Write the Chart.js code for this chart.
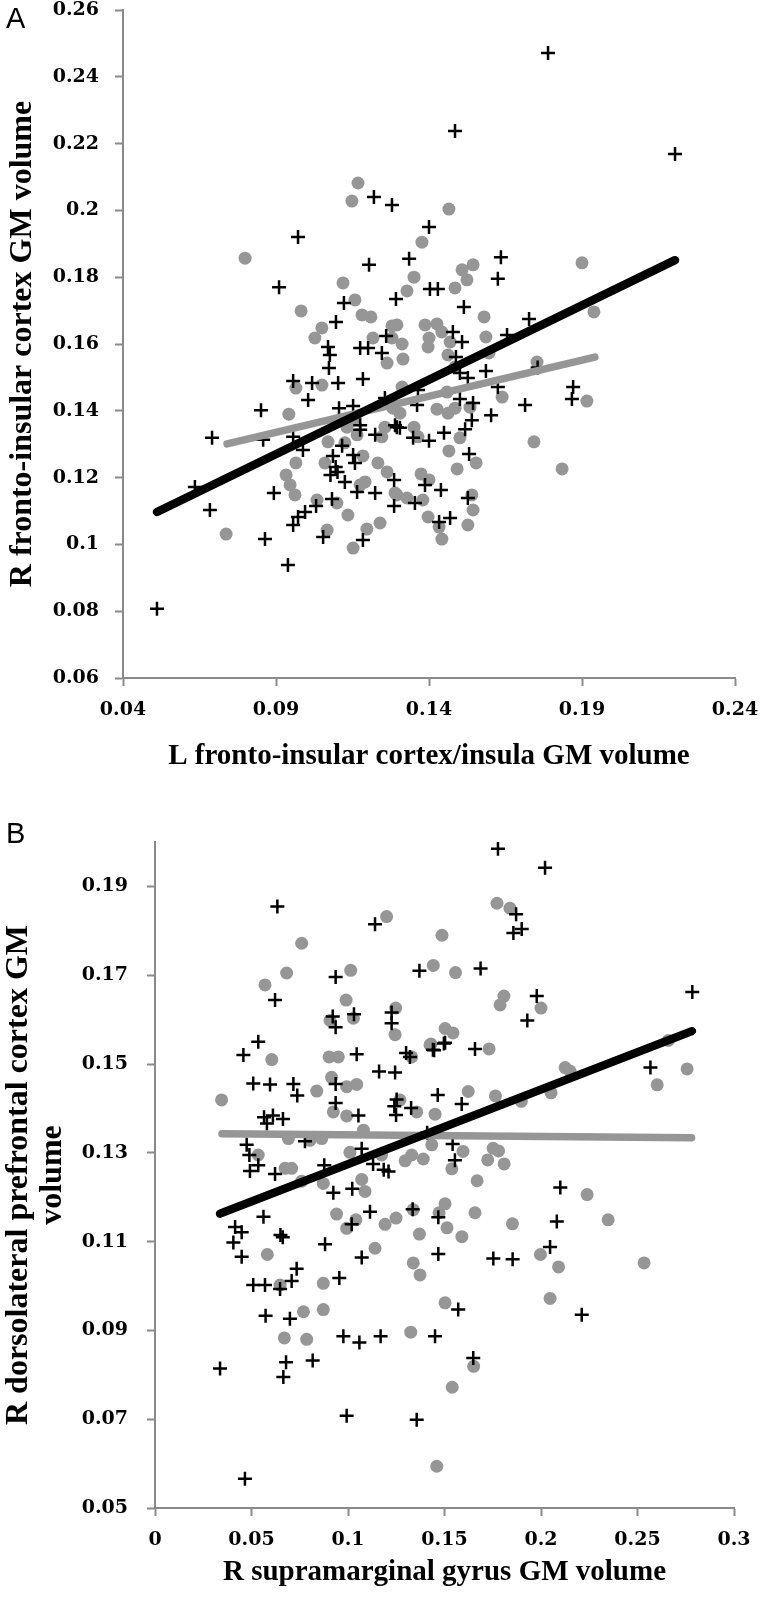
<!DOCTYPE html>
<html>
<head>
<meta charset="utf-8">
<script src="https://cdn.jsdelivr.net/npm/chart.js@4.4.1/dist/chart.umd.min.js"></script>
<style>
  html, body { margin: 0; padding: 0; background: #fff; }
  body { width: 760px; height: 1604px; position: relative; overflow: hidden; }
  canvas { position: absolute; left: 0; }
  #chartA { top: 0; }
  #chartB { top: 800px; }
  .panel { position: absolute; left: 6px; font-family: "Liberation Sans", Arial, sans-serif; font-size: 29px; line-height: 29px; color: #000; }
</style>
</head>
<body>
<canvas id="chartA" width="760" height="790"></canvas>
<canvas id="chartB" width="760" height="804"></canvas>
<div class="panel" style="top:4px">A</div>
<div class="panel" style="top:819px">B</div>
<script>
// ---- panel A: L vs R fronto-insular cortex ----
const crossA = [
  [0.1789,0.2471],[0.1485,0.2238],[0.2204,0.2169],[0.0972,0.1920],[0.1220,0.2040],[0.1279,0.2016],
  [0.0910,0.1770],[0.1204,0.1837],[0.1122,0.1723],[0.1096,0.1666],[0.1070,0.1591],[0.1076,0.1567],
  [0.1073,0.1528],[0.0956,0.1489],[0.1018,0.1483],[0.1103,0.1483],[0.1184,0.1495],[0.1175,0.1588],
  [0.1201,0.1588],[0.1292,0.1735],[0.1260,0.1624],[0.1246,0.1573],[0.1005,0.1432],[0.0851,0.1402],
  [0.1106,0.1408],[0.1152,0.1414],[0.1256,0.1438],[0.0691,0.1319],[0.0858,0.1313],[0.0956,0.1322],
  [0.0988,0.1283],[0.1175,0.1357],[0.1175,0.1343],[0.1224,0.1328],[0.1289,0.1357],[0.1116,0.1295],
  [0.1086,0.1265],[0.1152,0.1268],[0.1158,0.1244],[0.1095,0.1232],[0.1078,0.1208],[0.1101,0.1217],
  [0.1125,0.1187],[0.1165,0.1157],[0.1224,0.1154],[0.1286,0.1193],[0.1286,0.1115],[0.0893,0.1154],
  [0.0635,0.1172],[0.0684,0.1103],[0.1083,0.1136],[0.1031,0.1115],[0.0995,0.1097],[0.0972,0.1082],
  [0.0956,0.1058],[0.0864,0.1016],[0.1054,0.1022],[0.1184,0.1013],[0.0511,0.0807],[0.0939,0.0938],
  [0.1400,0.1950],[0.1335,0.1855],[0.1635,0.1860],[0.1625,0.1795],[0.1403,0.1765],[0.1429,0.1765],
  [0.1514,0.1711],[0.1727,0.1675],[0.1655,0.1627],[0.1478,0.1636],[0.1508,0.1606],[0.1488,0.1561],
  [0.1501,0.1513],[0.1527,0.1498],[0.1586,0.1519],[0.1364,0.1462],[0.1361,0.1417],[0.1625,0.1471],
  [0.1871,0.1471],[0.1867,0.1435],[0.1714,0.1417],[0.1501,0.1435],[0.1544,0.1423],[0.1603,0.1387],
  [0.1540,0.1372],[0.1518,0.1345],[0.1449,0.1334],[0.1400,0.1310],[0.1348,0.1319],[0.1295,0.1351],
  [0.1305,0.1349],[0.1531,0.1271],[0.1387,0.1178],[0.1439,0.1163],[0.1527,0.1139],[0.1354,0.1124],
  [0.1433,0.1067],[0.1469,0.1079],[0.1755,0.1530]
];
const dotA = [
  [0.1168,0.2082],[0.1148,0.2028],[0.0799,0.1857],[0.1119,0.1783],[0.1158,0.1732],[0.0982,0.1699],
  [0.1181,0.1687],[0.1210,0.1681],[0.1050,0.1648],[0.1027,0.1618],[0.1217,0.1618],[0.1279,0.1654],
  [0.1263,0.1543],[0.1315,0.1555],[0.0965,0.1468],[0.1050,0.1477],[0.0942,0.1390],[0.1132,0.1351],
  [0.1165,0.1328],[0.1256,0.1351],[0.1246,0.1322],[0.1070,0.1307],[0.0965,0.1244],[0.1060,0.1244],
  [0.1184,0.1265],[0.1233,0.1244],[0.1263,0.1217],[0.0933,0.1208],[0.0946,0.1178],[0.0962,0.1148],
  [0.1034,0.1133],[0.1099,0.1124],[0.1175,0.1178],[0.1191,0.1187],[0.1295,0.1148],[0.1135,0.1088],
  [0.1197,0.1046],[0.1240,0.1064],[0.1067,0.1043],[0.0737,0.1031],[0.1152,0.0989],[0.1125,0.1304],
  [0.1158,0.1378],[0.1465,0.2004],[0.1377,0.1905],[0.1351,0.1800],[0.1328,0.1759],[0.1508,0.1822],
  [0.1544,0.1837],[0.1524,0.1792],[0.1485,0.1768],[0.1900,0.1843],[0.1939,0.1696],[0.1580,0.1681],
  [0.1586,0.1621],[0.1295,0.1657],[0.1387,0.1657],[0.1426,0.1660],[0.1442,0.1636],[0.1400,0.1618],
  [0.1397,0.1591],[0.1312,0.1600],[0.1279,0.1618],[0.1469,0.1606],[0.1462,0.1567],[0.1596,0.1573],
  [0.1753,0.1546],[0.1485,0.1531],[0.1312,0.1471],[0.1459,0.1456],[0.1282,0.1408],[0.1305,0.1393],
  [0.1639,0.1441],[0.1916,0.1429],[0.1426,0.1405],[0.1462,0.1393],[0.1485,0.1408],[0.1534,0.1411],
  [0.1351,0.1351],[0.1364,0.1322],[0.1501,0.1319],[0.1465,0.1280],[0.1743,0.1307],[0.1554,0.1244],
  [0.1492,0.1226],[0.1835,0.1226],[0.1374,0.1211],[0.1400,0.1193],[0.1289,0.1154],[0.1328,0.1139],
  [0.1380,0.1133],[0.1540,0.1148],[0.1544,0.1103],[0.1397,0.1082],[0.1433,0.1052],[0.1442,0.1016],
  [0.1527,0.1058]
];
const fitBlackA = [[0.0511,0.1097],[0.2204,0.1851]];
const fitGreyA = [[0.0740,0.1301],[0.1942,0.1561]];
const xTicksA = [0.04, 0.09, 0.14, 0.19, 0.24];
const yTicksA = [0.06, 0.08, 0.1, 0.12, 0.14, 0.16, 0.18, 0.2, 0.22, 0.24, 0.26];

// ---- panel B: supramarginal vs dorsolateral prefrontal ----
const crossB = [
  [0.0634,0.1855],[0.1140,0.1815],[0.0622,0.1644],[0.0936,0.1696],[0.1370,0.1710],[0.0921,0.1607],
  [0.0936,0.1583],[0.1031,0.1612],[0.1226,0.1616],[0.1226,0.1592],[0.0535,0.1550],[0.0458,0.1520],
  [0.1045,0.1522],[0.1161,0.1483],[0.1244,0.1481],[0.1301,0.1525],[0.1321,0.1516],[0.1446,0.1531],
  [0.1497,0.1546],[0.0509,0.1456],[0.0596,0.1454],[0.0717,0.1455],[0.0737,0.1429],[0.0936,0.1455],
  [0.0936,0.1412],[0.1054,0.1384],[0.1252,0.1420],[0.1240,0.1405],[0.1249,0.1385],[0.1327,0.1401],
  [0.1465,0.1430],[0.0565,0.1380],[0.0611,0.1384],[0.0663,0.1376],[0.0580,0.1366],[0.0475,0.1318],
  [0.0489,0.1295],[0.0492,0.1259],[0.0535,0.1272],[0.0622,0.1252],[0.0777,0.1326],[0.0877,0.1272],
  [0.0924,0.1210],[0.1022,0.1219],[0.1071,0.1309],[0.1130,0.1275],[0.1185,0.1262],[0.1210,0.1258],
  [0.0562,0.1156],[0.0415,0.1133],[0.0449,0.1121],[0.0406,0.1098],[0.0449,0.1066],[0.0650,0.1115],
  [0.0662,0.1110],[0.0881,0.1094],[0.1071,0.1064],[0.1114,0.1167],[0.1019,0.1139],[0.1335,0.1173],
  [0.1468,0.1155],[0.1468,0.1072],[0.0734,0.1039],[0.0708,0.1011],[0.0509,0.1002],[0.0570,0.1002],
  [0.0648,0.0993],[0.0955,0.1018],[0.0573,0.0933],[0.0699,0.0926],[0.0976,0.0887],[0.1059,0.0873],
  [0.1169,0.0887],[0.1451,0.0887],[0.0337,0.0814],[0.0679,0.0828],[0.0665,0.0795],[0.0817,0.0832],
  [0.0993,0.0708],[0.1356,0.0699],[0.0466,0.0566],[0.1777,0.1985],[0.2021,0.1942],[0.1871,0.1837],
  [0.1900,0.1804],[0.1857,0.1795],[0.1687,0.1715],[0.1978,0.1653],[0.1929,0.1598],[0.2784,0.1662],
  [0.1503,0.1548],[0.1658,0.1534],[0.1440,0.1532],[0.1589,0.1410],[0.1542,0.1320],[0.1554,0.1283],
  [0.1410,0.1345],[0.2100,0.1222],[0.2082,0.1145],[0.2047,0.1088],[0.1753,0.1062],[0.1853,0.1060],
  [0.1571,0.0947],[0.2211,0.0935],[0.1649,0.0838],[0.2567,0.1492]
];
const dotB = [
  [0.1200,0.1832],[0.0760,0.1772],[0.0682,0.1705],[0.0570,0.1678],[0.1487,0.1790],[0.1014,0.1711],
  [0.1442,0.1722],[0.0990,0.1644],[0.0907,0.1598],[0.1028,0.1603],[0.1247,0.1626],[0.1244,0.1566],
  [0.1503,0.1580],[0.0605,0.1510],[0.0902,0.1516],[0.0950,0.1516],[0.1330,0.1516],[0.1425,0.1543],
  [0.0345,0.1419],[0.0838,0.1439],[0.0915,0.1470],[0.0993,0.1449],[0.1045,0.1454],[0.0924,0.1392],
  [0.0993,0.1383],[0.1080,0.1351],[0.1269,0.1419],[0.1356,0.1392],[0.1451,0.1387],[0.0691,0.1332],
  [0.0803,0.1328],[0.0864,0.1332],[0.0535,0.1295],[0.0674,0.1265],[0.0708,0.1265],[0.0760,0.1236],
  [0.0872,0.1231],[0.1010,0.1301],[0.1071,0.1240],[0.1088,0.1213],[0.1296,0.1282],[0.1330,0.1295],
  [0.1390,0.1286],[0.1174,0.1295],[0.1434,0.1318],[0.0941,0.1162],[0.0993,0.1130],[0.1041,0.1149],
  [0.1192,0.1139],[0.1249,0.1153],[0.1338,0.1172],[0.1472,0.1165],[0.1513,0.1131],[0.0582,0.1071],
  [0.1140,0.1085],[0.1370,0.1117],[0.1338,0.1052],[0.1373,0.1025],[0.0648,0.1002],[0.0872,0.1006],
  [0.1503,0.0962],[0.0769,0.0942],[0.0872,0.0947],[0.0670,0.0883],[0.0786,0.0880],[0.1325,0.0896],
  [0.1540,0.0772],[0.1460,0.0594],[0.1772,0.1862],[0.1839,0.1851],[0.1557,0.1706],[0.1808,0.1653],
  [0.1788,0.1633],[0.2000,0.1626],[0.1544,0.1570],[0.1430,0.1545],[0.1731,0.1534],[0.2125,0.1492],
  [0.2150,0.1484],[0.2660,0.1553],[0.2757,0.1489],[0.2602,0.1453],[0.1623,0.1438],[0.1764,0.1428],
  [0.1898,0.1416],[0.2052,0.1435],[0.1596,0.1303],[0.1752,0.1310],[0.1780,0.1304],[0.1724,0.1284],
  [0.1809,0.1275],[0.1538,0.1264],[0.1669,0.1237],[0.2239,0.1206],[0.1503,0.1185],[0.1658,0.1165],
  [0.1852,0.1140],[0.2348,0.1149],[0.1590,0.1111],[0.1997,0.1071],[0.2091,0.1043],[0.2534,0.1052],
  [0.2047,0.0972],[0.1651,0.0819]
];
const fitBlackB = [[0.0337,0.1163],[0.2782,0.1574]];
const fitGreyB = [[0.0347,0.1343],[0.2780,0.1334]];
const xTicksB = [0, 0.05, 0.1, 0.15, 0.2, 0.25, 0.3];
const yTicksB = [0.05, 0.07, 0.09, 0.11, 0.13, 0.15, 0.17, 0.19];

const GREY = '#969696';
const AXIS = '#8a8a8a';
const tickFont = { family: '"DejaVu Serif", serif', size: 19, weight: 'bold' };
const xTitleFont = { family: '"Liberation Serif", serif', size: 29, weight: 'bold', lineHeight: 1.2 };
const yTitleFont = { family: '"Liberation Serif", serif', size: 32, weight: 'bold', lineHeight: 1.05 };

function pts(arr) {
  return arr.map(p => ({ x: p[0], y: p[1] }));
}

function makeDatasets(cross, dot, black, grey) {
  return [
    { data: pts(black), showLine: true, borderColor: '#000', borderWidth: 8.5, borderCapStyle: 'round',
      pointRadius: 0, order: 0 },
    { data: pts(grey), showLine: true, borderColor: GREY, borderWidth: 7.5, borderCapStyle: 'round',
      pointRadius: 0, order: 1 },
    { data: pts(cross), pointStyle: 'cross', pointRadius: 7, pointBorderColor: '#000',
      pointBorderWidth: 2.5, order: 2 },
    { data: pts(dot), pointStyle: 'circle', pointRadius: 6.5, pointBackgroundColor: GREY,
      pointBorderWidth: 0, order: 3 }
  ];
}

function makeAxis(min, max, ticks, title, titleFont, titlePad, tickPad, size, horizontal) {
  return {
    type: 'linear',
    min: min,
    max: max,
    afterBuildTicks: s => { s.ticks = ticks.map(v => ({ value: v })); },
    afterFit: s => {
      // fixed axis box, and no extra room for overhanging end labels
      if (horizontal) s.height = size; else s.width = size;
      s.paddingTop = 0; s.paddingBottom = 0; s.paddingLeft = 0; s.paddingRight = 0;
    },
    border: { display: true, color: AXIS, width: 2 },
    grid: { display: true, drawOnChartArea: false, drawTicks: true, tickLength: 8,
            tickWidth: 2, tickColor: AXIS, color: AXIS },
    ticks: { font: tickFont, color: '#000', padding: tickPad, autoSkip: false, maxRotation: 0,
             callback: v => String(v) },
    title: { display: true, text: title, color: '#000', font: titleFont, padding: titlePad }
  };
}

function makeChart(id, datasets, xScale, yScale, padding) {
  return new Chart(document.getElementById(id), {
    type: 'scatter',
    data: { datasets: datasets },
    options: {
      responsive: false,
      animation: false,
      devicePixelRatio: 1,
      layout: { padding: padding },
      plugins: { legend: { display: false }, tooltip: { enabled: false } },
      scales: { x: xScale, y: yScale }
    }
  });
}

makeChart('chartA',
  makeDatasets(crossA, dotA, fitBlackA, fitGreyA),
  makeAxis(0.04, 0.24, xTicksA, 'L fronto-insular cortex/insula GM volume', xTitleFont,
           { top: 0, bottom: 15.6 }, 12.5, 112, true),
  makeAxis(0.06, 0.26, yTicksA, 'R fronto-insular cortex GM volume', yTitleFont,
           { top: 6, bottom: 0 }, 16, 123, false),
  { top: 10, right: 25, bottom: 0, left: 0 });

makeChart('chartB',
  makeDatasets(crossB, dotB, fitBlackB, fitGreyB),
  makeAxis(0, 0.3, xTicksB, 'R supramarginal gyrus GM volume', xTitleFont,
           { top: 0, bottom: 13.6 }, 12.5, 96, true),
  makeAxis(0.05, 0.2, yTicksB, ['R dorsolateral prefrontal cortex GM', 'volume'], yTitleFont,
           { top: 2, bottom: 0 }, 19, 155, false),
  { top: 42, right: 26, bottom: 0, left: 0 });
</script>
</body>
</html>
